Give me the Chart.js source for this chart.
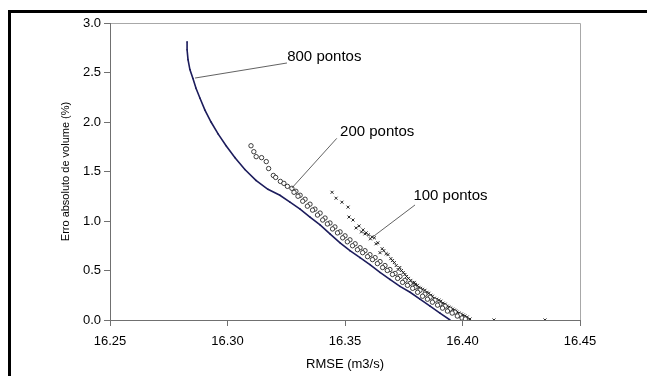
<!DOCTYPE html>
<html>
<head>
<meta charset="utf-8">
<script src="https://cdn.jsdelivr.net/npm/chart.js@4/dist/chart.umd.min.js"></script>
<style>
  html, body { margin: 0; padding: 0; background: #fff; }
  #wrap { position: relative; width: 647px; height: 376px; }
  canvas { position: absolute; left: 0; top: 0; }
</style>
</head>
<body>
<div id="wrap"><canvas id="c" width="647" height="376"></canvas></div>
<script>
// ---- data ----
const xTicks = [16.25, 16.30, 16.35, 16.40, 16.45];
const yTicks = [0.0, 0.5, 1.0, 1.5, 2.0, 2.5, 3.0];

const p800x = [16.2828, 16.2828, 16.2832, 16.2840, 16.2853, 16.2866, 16.2883, 16.2904, 16.2930, 16.2960,
               16.2994, 16.3032, 16.3074, 16.3121, 16.3172, 16.3223, 16.3266, 16.3309, 16.3351, 16.3394,
               16.3436, 16.3479, 16.3521, 16.3564, 16.3606, 16.3649, 16.3691, 16.3734, 16.3777, 16.3819,
               16.3862, 16.3904, 16.3947];
const p800y = [2.81, 2.73, 2.63, 2.53, 2.44, 2.34, 2.24, 2.12, 2.00, 1.88,
               1.76, 1.64, 1.52, 1.41, 1.32, 1.26, 1.19, 1.12, 1.04, 0.96,
               0.87, 0.78, 0.70, 0.63, 0.56, 0.48, 0.41, 0.34, 0.28, 0.21,
               0.14, 0.07, 0.00];

const p200x = [16.3100, 16.3112, 16.3122, 16.3145, 16.3165, 16.3175, 16.3195, 16.3205, 16.3225, 16.3240, 16.3255,
               16.3274, 16.3291, 16.3309, 16.3330, 16.3351, 16.3372, 16.3394, 16.3415, 16.3436, 16.3457,
               16.3479, 16.3500, 16.3521, 16.3543, 16.3564, 16.3585, 16.3606, 16.3628, 16.3649, 16.3670,
               16.3691, 16.3713, 16.3734, 16.3755, 16.3777, 16.3798, 16.3819, 16.3840, 16.3862, 16.3883,
               16.3904, 16.3926, 16.3947, 16.3968, 16.3989, 16.4006, 16.4019,
               16.3283, 16.3300, 16.3320, 16.3340, 16.3362, 16.3383, 16.3405, 16.3425, 16.3447, 16.3468,
               16.3490, 16.3510, 16.3532, 16.3553, 16.3575, 16.3596, 16.3617, 16.3638, 16.3660, 16.3680,
               16.3702, 16.3724, 16.3745, 16.3766, 16.3788, 16.3809, 16.3830, 16.3851, 16.3872, 16.3894,
               16.3915, 16.3936, 16.3956, 16.3978, 16.3998, 16.4012];
const p200y = [1.76, 1.70, 1.65, 1.64, 1.60, 1.53, 1.46, 1.44, 1.40, 1.38, 1.35,
               1.33, 1.30, 1.26, 1.22, 1.17, 1.12, 1.08, 1.03, 0.98, 0.94,
               0.89, 0.85, 0.81, 0.77, 0.73, 0.70, 0.66, 0.63, 0.59, 0.55,
               0.51, 0.47, 0.44, 0.40, 0.37, 0.33, 0.30, 0.26, 0.23, 0.20,
               0.16, 0.14, 0.11, 0.08, 0.05, 0.02, 0.00,
               1.29, 1.25, 1.20, 1.15, 1.11, 1.06, 1.01, 0.97, 0.92, 0.88,
               0.83, 0.79, 0.75, 0.71, 0.68, 0.64, 0.61, 0.57, 0.53, 0.50,
               0.46, 0.42, 0.38, 0.35, 0.32, 0.28, 0.24, 0.21, 0.18, 0.15,
               0.12, 0.09, 0.07, 0.04, 0.02, 0.01];

const p100x = [16.3445, 16.3462, 16.3487, 16.3513, 16.3517, 16.3534, 16.3547, 16.3560, 16.3577, 16.3590,
               16.3600, 16.3615, 16.3625, 16.3640, 16.3649, 16.3665, 16.3683, 16.3695, 16.3710, 16.3726,
               16.3740, 16.3755, 16.3770, 16.3789, 16.3800, 16.3815, 16.3830, 16.3849, 16.3865, 16.3880,
               16.3900, 16.3917, 16.3935, 16.3950, 16.3965, 16.3977, 16.3995, 16.4010, 16.4032, 16.4134,
               16.4351,
               16.3570, 16.3585, 16.3608, 16.3632, 16.3658, 16.3675, 16.3702, 16.3718, 16.3733, 16.3748,
               16.3762, 16.3780, 16.3795, 16.3808, 16.3822, 16.3840, 16.3857, 16.3872, 16.3890, 16.3908,
               16.3926, 16.3942, 16.3958, 16.3971, 16.3985, 16.4003, 16.4020];
const p100y = [1.29, 1.23, 1.19, 1.14, 1.04, 1.01, 0.93, 0.95, 0.91, 0.88,
               0.86, 0.84, 0.83, 0.78, 0.68, 0.70, 0.66, 0.62, 0.58, 0.51,
               0.50, 0.46, 0.42, 0.37, 0.36, 0.33, 0.31, 0.28, 0.25, 0.22,
               0.20, 0.17, 0.14, 0.12, 0.10, 0.08, 0.06, 0.04, 0.01, 0.00,
               0.00,
               0.89, 0.87, 0.82, 0.77, 0.72, 0.67, 0.60, 0.55, 0.53, 0.48,
               0.44, 0.40, 0.38, 0.35, 0.32, 0.30, 0.27, 0.24, 0.21, 0.19,
               0.16, 0.13, 0.11, 0.09, 0.07, 0.05, 0.03];

const labels = ['800 pontos', '200 pontos', '100 pontos'];
const xTitle = 'RMSE (m3/s)';
const yTitle = 'Erro absoluto de volume (%)';

// ---- build ----
const zip = (xs, ys) => xs.map((x, i) => ({ x: x, y: ys[i] }));
const FONT = "'Liberation Sans', Arial, sans-serif";

const annotations = [
  { text: labels[0], tx: 16.3254, ty: 2.657, from: [16.3253, 2.596], to: [16.2862, 2.444] },
  { text: labels[1], tx: 16.3479, ty: 1.902, from: [16.3465, 1.835], to: [16.3274, 1.333] },
  { text: labels[2], tx: 16.3791, ty: 1.253, from: [16.3798, 1.162], to: [16.3623, 0.848] }
];

const decor = {
  id: 'decor',
  beforeDraw(chart) {
    const ctx = chart.ctx;
    ctx.save();
    ctx.fillStyle = '#fff';
    ctx.fillRect(0, 0, chart.width, chart.height);
    ctx.fillStyle = '#000';
    ctx.fillRect(8, 10, chart.width, 3);
    ctx.fillRect(8, 10, 3, chart.height);
    const a = chart.chartArea;
    ctx.strokeStyle = '#a8a8a8';
    ctx.lineWidth = 1;
    ctx.beginPath();
    ctx.moveTo(a.left, a.top + 0.5);
    ctx.lineTo(a.right + 0.5, a.top + 0.5);
    ctx.lineTo(a.right + 0.5, a.bottom);
    ctx.stroke();
    ctx.restore();
  },
  afterDatasetsDraw(chart) {
    const ctx = chart.ctx;
    const xs = chart.scales.x, ys = chart.scales.y;
    ctx.save();
    ctx.strokeStyle = '#3a3a3a';
    ctx.lineWidth = 0.8;
    ctx.fillStyle = '#000';
    ctx.font = '15px ' + FONT;
    ctx.textBaseline = 'middle';
    ctx.textAlign = 'left';
    annotations.forEach(an => {
      ctx.beginPath();
      ctx.moveTo(xs.getPixelForValue(an.from[0]), ys.getPixelForValue(an.from[1]));
      ctx.lineTo(xs.getPixelForValue(an.to[0]), ys.getPixelForValue(an.to[1]));
      ctx.stroke();
      ctx.fillText(an.text, xs.getPixelForValue(an.tx), ys.getPixelForValue(an.ty));
    });
    ctx.restore();
  }
};

new Chart(document.getElementById('c'), {
  type: 'scatter',
  data: {
    datasets: [
      { label: labels[1], data: zip(p200x, p200y), pointStyle: 'circle', pointRadius: 2.2,
        borderColor: '#111', backgroundColor: '#fff', borderWidth: 0.8, showLine: false },
      { label: labels[2], data: zip(p100x, p100y), pointStyle: 'crossRot', pointRadius: 2.1,
        borderColor: '#111', backgroundColor: '#111', borderWidth: 0.9, showLine: false },
      { label: labels[0], data: zip(p800x, p800y), showLine: true, borderColor: '#1c1c5c',
        backgroundColor: '#1c1c5c', borderWidth: 1.6, pointRadius: 0.8, pointBorderWidth: 0, tension: 0 }
    ]
  },
  options: {
    responsive: false,
    animation: false,
    devicePixelRatio: 1,
    layout: { padding: { left: 55, top: 23, right: 67, bottom: 0 } },
    plugins: { legend: { display: false }, tooltip: { enabled: false } },
    scales: {
      x: {
        type: 'linear', min: xTicks[0], max: xTicks[xTicks.length - 1],
        afterBuildTicks: s => { s.ticks = xTicks.map(v => ({ value: v })); },
        afterFit: s => { s.height = 56; },
        ticks: { callback: v => v.toFixed(2), color: '#000', font: { family: FONT, size: 13 }, padding: 8, maxRotation: 0 },
        grid: { drawOnChartArea: false, drawTicks: true, tickLength: 6, color: '#707070' },
        border: { color: '#707070', width: 1 },
        title: { display: true, text: xTitle, color: '#000', font: { family: FONT, size: 13 }, padding: { top: 4, bottom: 4 } }
      },
      y: {
        type: 'linear', min: yTicks[0], max: yTicks[yTicks.length - 1],
        afterBuildTicks: s => { s.ticks = yTicks.map(v => ({ value: v })); },
        afterFit: s => { s.width = 55; },
        ticks: { callback: v => v.toFixed(1), color: '#000', font: { family: FONT, size: 13 }, padding: 3 },
        grid: { drawOnChartArea: false, drawTicks: true, tickLength: 6, color: '#707070' },
        border: { color: '#707070', width: 1 },
        title: { display: true, text: yTitle, color: '#000', font: { family: FONT, size: 11 }, padding: { top: 4, bottom: 4 } }
      }
    }
  },
  plugins: [decor]
});
</script>
</body>
</html>
